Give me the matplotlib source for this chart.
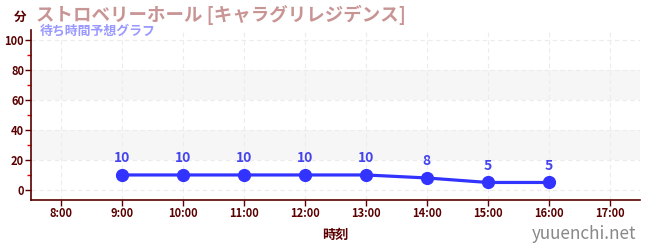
import matplotlib.pyplot as plt
from matplotlib.ticker import MultipleLocator

plt.rcParams['font.family'] = ['Noto Sans CJK JP', 'DejaVu Sans']

hours = [9, 10, 11, 12, 13, 14, 15, 16]
waits = [10, 10, 10, 10, 10, 8, 5, 5]
tick_hours = list(range(8, 18))
tick_labels = [f"{h}:00" for h in tick_hours]

title = "ストロベリーホール [キャラグリレジデンス]"
subtitle = "待ち時間予想グラフ"

axis_col = "#5a0000"
line_col = "#3333ff"

fig = plt.figure(figsize=(6.5, 2.5), dpi=100)
ax = fig.add_axes([31 / 650, 50 / 250, 609 / 650, 170 / 250])

ax.set_xlim(7.5, 17.5)
ax.set_ylim(-6.7, 106.7)

# gray bands
for lo, hi in [(20, 40), (60, 80)]:
    ax.axhspan(lo, hi, color="#f6f6f6", zorder=0, lw=0)

ax.grid(True, which="major", color="#ececec", linestyle=(0, (4, 3)), lw=0.8, zorder=1)

ax.plot(hours, waits, color=line_col, lw=2.3, marker="o", ms=8.5, zorder=3)
for h, w in zip(hours, waits):
    ax.annotate(str(w), (h, w), xytext=(0, 7), textcoords="offset points",
                ha="center", va="bottom", color="#4444ee", fontsize=10,
                fontweight="bold")

ax.set_xticks(tick_hours)
ax.set_xticklabels(tick_labels)
ax.set_yticks(range(0, 101, 20))
ax.yaxis.set_minor_locator(MultipleLocator(10))

for s in ["top", "right"]:
    ax.spines[s].set_visible(False)
for s in ["left", "bottom"]:
    ax.spines[s].set_color(axis_col)
    ax.spines[s].set_linewidth(1.2)

ax.tick_params(axis="both", colors=axis_col, labelsize=8, length=4, width=1)
ax.tick_params(axis="y", which="minor", colors="#dd0000", length=3, width=1)
ax.tick_params(axis="x", pad=1)
ax.tick_params(axis="y", pad=1)
for lab in ax.get_xticklabels() + ax.get_yticklabels():
    lab.set_color(axis_col)
    lab.set_fontweight("bold")

ax.set_xlabel("時刻", color=axis_col, fontsize=9.5, fontweight="bold", labelpad=6)

fig.text(20 / 650, 1 - 17 / 250, "分", color=axis_col, fontsize=9,
         fontweight="bold", ha="center", va="center")
fig.text(36 / 650, 1 - 15 / 250, title, color="#c89494", fontsize=13.3,
         fontweight="bold", ha="left", va="center")
fig.text(40 / 650, 1 - 31 / 250, subtitle, color="#9999ff", fontsize=9.3,
         fontweight="bold", ha="left", va="center")
fig.text(636 / 650, 1 - 234 / 250, "yuuenchi.net", color="#888888",
         fontsize=12.3, ha="right", va="center")

fig.savefig("out.png", dpi=100)
